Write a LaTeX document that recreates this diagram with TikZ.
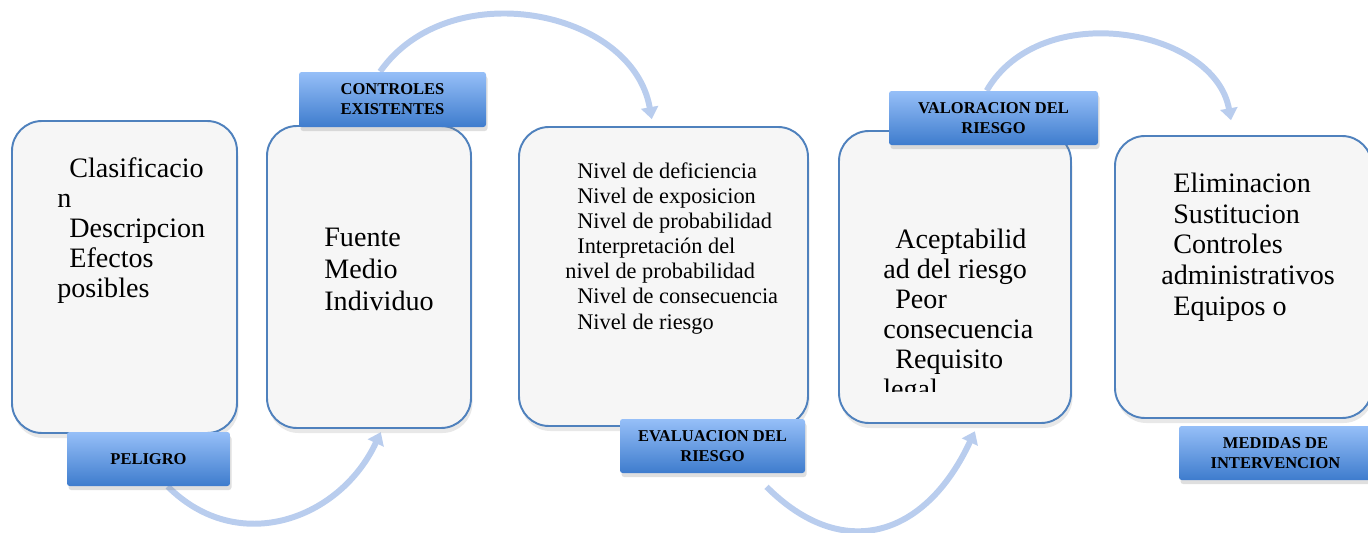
\documentclass[tikz,border=0pt]{standalone}
\usepackage{fontspec}
\setmainfont{Liberation Serif}
\usetikzlibrary{arrows.meta,shadows,backgrounds}
\definecolor{rand}{RGB}{79,129,189}
\definecolor{fondo}{RGB}{246,246,246}
\definecolor{etiqarriba}{RGB}{150,191,248}
\definecolor{etiqabajo}{RGB}{62,124,205}
\definecolor{flecha}{RGB}{185,205,238}
\newcommand{\sangria}{\hspace*{0.24cm}}
\tikzset{
  caja/.style={draw=rand, line width=1.1pt, fill=fondo, rounded corners=0.6cm,
    drop shadow={opacity=0.18, shadow xshift=0.03cm, shadow yshift=-0.1cm}},
  etiqueta/.style={rounded corners=1.5pt, top color=etiqarriba, bottom color=etiqabajo,
    align=center, font=\bfseries\fontsize{9.4}{11.3}\selectfont,
    drop shadow={opacity=0.25, shadow xshift=0.03cm, shadow yshift=-0.08cm}},
  texto/.style={anchor=base west, inner sep=0pt, align=left, font=\fontsize{16}{17}\selectfont},
  flujo/.style={draw=flecha, line width=3.4pt, -{Triangle[width=0.34cm,length=0.24cm]}}
}
\begin{document}
\begin{tikzpicture}
  \useasboundingbox (0,0) rectangle (27.36,10.64);
%Cajas
  \node[caja, minimum width=4.5cm, minimum height=6.24cm] (cPeligro) at (2.49,5.10) {};
  \node[caja, minimum width=4.08cm, minimum height=6.04cm] (cControles) at (7.38,5.10) {};
  \node[caja, minimum width=5.78cm, minimum height=5.98cm] (cEvaluacion) at (13.27,5.11) {};
  \node[caja, minimum width=4.64cm, minimum height=5.84cm] (cValoracion) at (19.10,5.10) {};
  \node[caja, minimum width=5.14cm, minimum height=5.64cm] (cMedidas) at (24.87,5.10) {};
%Textos (base = ultima linea)
  \node[texto] (tPeligro) at (1.14,4.70)
    {\sangria Clasificacio\\ n\\ \sangria Descripcion\\ \sangria Efectos\\ posibles};
  \node[texto, font=\fontsize{16}{18}\selectfont] (tControles) at (6.48,4.44)
    {Fuente\\ Medio\\ Individuo};
  \node[texto, font=\fontsize{12.7}{14.3}\selectfont] (tEvaluacion) at (11.30,4.06)
    {\sangria Nivel de deficiencia\\ \sangria Nivel de exposicion\\
     \sangria Nivel de probabilidad\\ \sangria Interpretación del\\
     nivel de probabilidad\\ \sangria Nivel de consecuencia\\ \sangria Nivel de riesgo};
  \begin{scope}
    \clip (17.5,2.82) rectangle (21.2,7.2);
    \node[texto] (tValoracion) at (17.66,2.68)
      {\sangria Aceptabilid\\ ad del riesgo\\ \sangria Peor\\ consecuencia\\
       \sangria Requisito\\ legal};
  \end{scope}
  \node[texto, font=\fontsize{16}{17.4}\selectfont] (tMedidas) at (23.22,4.34)
    {\sangria Eliminacion\\ \sangria Sustitucion\\ \sangria Controles\\
     administrativos\\ \sangria Equipos o};
%Etiquetas
  \node[etiqueta, minimum width=3.26cm, minimum height=1.08cm] (ePeligro) at (2.97,1.46) {PELIGRO};
  \node[etiqueta, minimum width=3.74cm, minimum height=1.10cm] (eControles) at (7.85,8.65) {CONTROLES\\ EXISTENTES};
  \node[etiqueta, minimum width=3.70cm, minimum height=1.08cm] (eEvaluacion) at (14.25,1.72) {EVALUACION DEL\\ RIESGO};
  \node[etiqueta, minimum width=4.18cm, minimum height=1.08cm] (eValoracion) at (19.87,8.28) {VALORACION DEL\\ RIESGO};
  \node[etiqueta, minimum width=3.86cm, minimum height=1.08cm] (eMedidas) at (25.51,1.58) {MEDIDAS DE\\ INTERVENCION};
%Flechas
  \begin{pgfonlayer}{background}
    \draw[flujo, shorten >=2pt] (ePeligro.-55) to[out=-45, in=-115, looseness=1.15] (cControles.-85);
    \draw[flujo, shorten >=4pt] (eControles.114) to[out=55, in=100, looseness=1.1] (cEvaluacion.94);
    \draw[flujo, shorten <=0.38cm, shorten >=0.16cm] (eEvaluacion.-34) to[out=-45, in=-115, looseness=1.4] (cValoracion.-81);
    \draw[flujo, shorten >=0.3cm] (eValoracion.104) to[out=60, in=100, looseness=1.1] (cMedidas.94);
  \end{pgfonlayer}
\end{tikzpicture}
\end{document}
